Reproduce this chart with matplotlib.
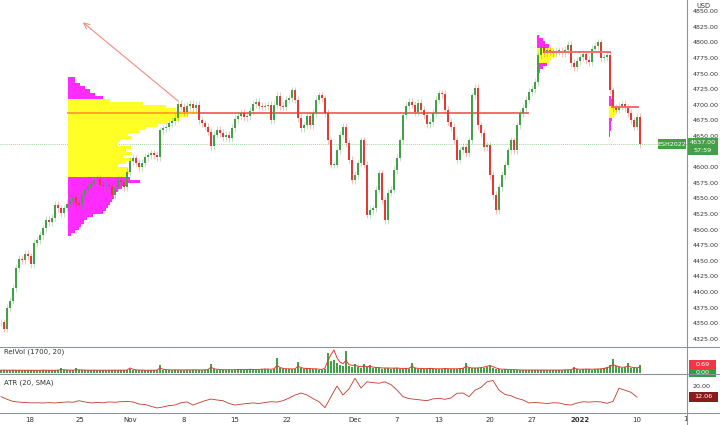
import matplotlib
matplotlib.use("Agg")
import matplotlib.pyplot as plt
import numpy as np
from matplotlib.lines import Line2D
from matplotlib.patches import Rectangle
from matplotlib.transforms import Bbox

GREEN = "#43a047"
RED = "#e53935"
POC_RED = "#f26d6d"
YELLOW = "#ffff26"
MAGENTA = "#ff2bff"
GRID = "#8f929a"
TXT = "#333333"

# ---------------------------------------------------------------------------
# data
# ---------------------------------------------------------------------------
# ES futures closes, one bar per ~4h, mid Oct 2021 -> 10 Jan 2022
close = [
    4351, 4341, 4374, 4386, 4406, 4438, 4453, 4451, 4461, 4457,
    4444, 4478, 4483, 4491, 4502, 4515, 4512, 4519, 4539, 4534,
    4526, 4534, 4541, 4546, 4552, 4542, 4539, 4555, 4564, 4568,
    4574, 4579, 4581, 4571, 4569, 4572, 4569, 4555, 4567, 4579,
    4576, 4568, 4592, 4610, 4614, 4607, 4600, 4607, 4616, 4619,
    4622, 4619, 4616, 4659, 4662, 4665, 4670, 4674, 4679, 4701,
    4697, 4688, 4698, 4701, 4695, 4700, 4675, 4670, 4665, 4657,
    4634, 4652, 4660, 4655, 4648, 4652, 4647, 4663, 4677, 4682,
    4687, 4680, 4682, 4690, 4701, 4705, 4698, 4697, 4698, 4700,
    4675, 4700, 4714, 4698, 4697, 4708, 4710, 4723, 4708, 4679,
    4663, 4667, 4682, 4667, 4687, 4708, 4715, 4710, 4687, 4643,
    4604, 4604, 4627, 4652, 4664, 4639, 4612, 4579, 4587, 4607,
    4643, 4604, 4524, 4531, 4534, 4564, 4590, 4547, 4515, 4559,
    4564, 4595, 4615, 4643, 4683, 4698, 4705, 4700, 4688, 4703,
    4692, 4683, 4669, 4672, 4687, 4708, 4718, 4717, 4692, 4672,
    4664, 4643, 4612, 4627, 4632, 4622, 4643, 4715, 4727, 4667,
    4655, 4632, 4635, 4587, 4555, 4531, 4568, 4587, 4604, 4627,
    4643, 4627, 4667, 4687, 4695, 4708, 4720, 4725, 4736, 4780,
    4793, 4783, 4788, 4785, 4783, 4786, 4786, 4783, 4788, 4796,
    4767, 4760, 4770, 4776, 4781, 4772, 4768, 4790, 4794, 4800,
    4775, 4776, 4780, 4723, 4695, 4692, 4698, 4701, 4695, 4687,
    4675, 4665, 4680, 4637,
]

# relative volume histogram and its signal line
relvol = [
    0.4, 0.3, 0.35, 0.3, 0.4, 0.3, 0.35, 0.3, 0.3, 0.35,
    0.3, 0.35, 0.3, 0.3, 0.4, 0.3, 0.35, 0.3, 0.3, 0.4,
    0.6, 0.35, 0.3, 0.35, 0.3, 0.6, 0.35, 0.3, 0.3, 0.35,
    0.3, 0.4, 0.3, 0.35, 0.3, 0.3, 0.35, 0.3, 0.3, 0.35,
    0.3, 0.35, 0.3, 0.5, 0.35, 0.3, 0.3, 0.35, 0.3, 0.3,
    0.35, 0.3, 0.4, 1.0, 0.4, 0.35, 0.3, 0.35, 0.4, 0.35,
    0.3, 0.35, 0.4, 0.35, 0.4, 0.35, 0.3, 0.35, 0.4, 0.45,
    1.1, 0.45, 0.4, 0.35, 0.4, 0.35, 0.4, 0.35, 0.4, 0.45,
    0.4, 0.35, 0.4, 0.45, 0.4, 0.35, 0.4, 0.45, 0.5, 0.45,
    0.4, 0.5, 1.8, 0.6, 0.5, 0.45, 0.5, 0.45, 0.5, 1.3,
    0.6, 0.5, 0.55, 0.5, 0.45, 0.5, 0.4, 0.35, 0.5, 2.4,
    1.4, 1.5, 1.2, 0.9, 0.8, 2.6, 0.8, 0.7, 1.1, 0.7,
    0.6, 1.1, 0.7, 1.0, 0.6, 0.55, 0.6, 0.5, 0.55, 0.6,
    0.5, 0.55, 0.6, 0.5, 0.5, 0.55, 0.5, 1.2, 0.55, 0.5,
    0.5, 0.45, 0.5, 0.55, 0.5, 0.45, 0.5, 0.5, 0.55, 0.5,
    0.5, 0.45, 0.5, 0.55, 0.6, 1.2, 0.6, 0.55, 0.6, 0.55,
    0.6, 0.65, 0.7, 0.8, 0.6, 0.5, 0.45, 0.4, 0.45, 0.4,
    0.35, 0.4, 0.35, 0.3, 0.35, 0.3, 0.3, 0.35, 0.3, 0.35,
    0.3, 0.35, 0.3, 0.35, 0.3, 0.35, 0.3, 0.35, 0.4, 0.35,
    0.4, 0.7, 0.45, 0.4, 0.45, 0.5, 0.45, 0.4, 0.45, 0.5,
    0.5, 0.6, 0.7, 0.9, 1.7, 0.8, 0.7, 0.6, 0.7, 1.2,
    0.6, 0.55, 0.6, 1.0,
]
relvol_line = [
    0.35, 0.35, 0.33, 0.33, 0.35, 0.33, 0.33, 0.32, 0.32, 0.33,
    0.33, 0.33, 0.32, 0.32, 0.35, 0.33, 0.33, 0.32, 0.32, 0.35,
    0.4, 0.38, 0.35, 0.34, 0.33, 0.4, 0.38, 0.35, 0.33, 0.33,
    0.33, 0.35, 0.33, 0.33, 0.32, 0.32, 0.33, 0.32, 0.32, 0.33,
    0.33, 0.34, 0.35, 0.6, 0.45, 0.38, 0.35, 0.35, 0.33, 0.33,
    0.33, 0.33, 0.35, 0.6, 0.45, 0.4, 0.38, 0.36, 0.38, 0.37,
    0.35, 0.36, 0.38, 0.37, 0.38, 0.37, 0.35, 0.36, 0.38, 0.4,
    0.7, 0.5, 0.45, 0.4, 0.4, 0.38, 0.4, 0.38, 0.4, 0.42,
    0.42, 0.4, 0.42, 0.44, 0.42, 0.4, 0.42, 0.45, 0.48, 0.46,
    0.45, 0.5, 0.9, 0.65, 0.55, 0.5, 0.5, 0.48, 0.5, 0.8,
    0.65, 0.55, 0.55, 0.52, 0.5, 0.5, 0.45, 0.42, 0.6, 1.5,
    2.2, 2.75, 1.8, 1.3, 1.1, 1.5, 1.0, 0.9, 0.95, 0.8,
    0.75, 0.85, 0.75, 0.8, 0.7, 0.65, 0.65, 0.6, 0.6, 0.6,
    0.58, 0.58, 0.6, 0.55, 0.55, 0.55, 0.55, 0.8, 0.6, 0.55,
    0.55, 0.52, 0.52, 0.55, 0.52, 0.5, 0.5, 0.5, 0.52, 0.52,
    0.5, 0.5, 0.5, 0.52, 0.55, 0.8, 0.65, 0.6, 0.6, 0.6,
    0.65, 0.7, 0.8, 0.9, 0.75, 0.6, 0.5, 0.45, 0.45, 0.42,
    0.4, 0.4, 0.38, 0.36, 0.36, 0.35, 0.35, 0.35, 0.35, 0.35,
    0.35, 0.35, 0.35, 0.35, 0.35, 0.35, 0.35, 0.35, 0.38, 0.38,
    0.4, 0.55, 0.48, 0.45, 0.45, 0.47, 0.47, 0.45, 0.46, 0.48,
    0.5, 0.55, 0.62, 0.75, 1.0, 0.85, 0.75, 0.68, 0.7, 0.85,
    0.7, 0.65, 0.62, 0.69,
]

# ATR(20, SMA), one reading every second bar
atr = [
    12.4, 10.5, 9.0, 8.5, 8.2, 7.9, 8.0, 7.9, 8.1, 7.9,
    8.3, 8.6, 8.4, 9.5, 8.6, 7.9, 8.2, 8.0, 8.6, 8.4,
    8.8, 8.9, 8.6, 7.1, 6.8, 5.5, 4.3, 5.0, 6.0, 6.4,
    8.0, 8.6, 6.4, 8.0, 9.5, 10.7, 10.0, 9.5, 7.5, 6.4,
    7.0, 7.5, 7.9, 7.5, 8.2, 8.8, 8.5, 9.5, 11.4, 13.5,
    15.0, 13.6, 11.0, 8.8, 4.5, 12.4, 20.0, 13.6, 18.0, 25.5,
    18.6, 23.0, 22.4, 22.0, 23.0, 21.0, 17.1, 12.4, 11.0, 10.5,
    10.0, 9.5, 10.8, 11.2, 10.5, 11.5, 14.8, 15.0, 12.4, 17.0,
    19.0, 23.0, 24.0, 17.0, 14.0, 13.0, 11.2, 10.0, 7.9, 8.2,
    7.9, 7.5, 8.0, 7.9, 6.8, 6.4, 7.8, 8.8, 8.5, 8.8,
    8.6, 7.6, 9.0, 18.4, 17.0, 15.5, 12.06,
]

# session volume profiles: row price, relative row volume, value area
vp1_levels = list(range(4742, 4491, -5))
vp1_vol = [
    7, 7, 12, 17, 22, 27, 35,
    42, 75, 98, 108, 125, 120, 112, 100, 90, 78, 72, 60, 64, 52, 50, 63,
    58, 64, 55, 65, 58, 50, 60, 62, 58,
    62, 72, 60, 54, 50, 47, 46, 44, 42, 40, 38, 35, 25, 19, 16, 13, 11, 7, 3,
]
vp1_va = (4587, 4707)
vp2_levels = [4809, 4804, 4799, 4794, 4789, 4784, 4779, 4774, 4769, 4764, 4759, 4754]
vp2_vol = [2, 6, 8, 12, 16, 20, 18, 14, 12, 10, 6, 3]
vp2_va = (4769, 4789)
vp3_levels = [4711, 4706, 4701, 4696, 4691, 4686, 4681, 4676, 4671, 4666, 4661, 4656, 4651]
vp3_vol = [2, 3, 4, 10, 8, 7, 5, 3, 2, 2, 2, 1, 1]
vp3_va = (4681, 4699)

date_ticks = [9.67, 26.33, 43, 60.8, 78, 95.3, 118, 132, 146, 163, 177, 193, 212]
date_labels = ["18", "25", "Nov", "8", "15", "22", "Dec", "7", "13", "20", "27", "2022", "10"]
price_ticks = list(range(4325, 4851, 25))

arrow_from = (59, 4706)
arrow_to = (27.3, 4832)

# ---------------------------------------------------------------------------
W, H = 720, 425
fig = plt.figure(figsize=(7.2, 4.25), dpi=100)


def frect(x0, y0, x1, y1):
    return [x0 / W, 1 - y1 / H, (x1 - x0) / W, (y1 - y0) / H]


ax = fig.add_axes(frect(0, 0, 687, 347))
ax_vol = fig.add_axes(frect(0, 347, 687, 374), sharex=ax)
ax_atr = fig.add_axes(frect(0, 374, 687, 413), sharex=ax)
for a in (ax, ax_vol, ax_atr):
    for s in a.spines.values():
        s.set_visible(False)
    a.set_facecolor("none")

# candles
c = np.array(close, float)
o = np.r_[c[0], c[:-1]]
idx = np.arange(len(c))
col = np.where(c >= o, GREEN, RED)
body_lo = np.minimum(o, c)
body_hi = np.maximum(o, c)
WICK = 6
ax.vlines(idx, body_lo - WICK, body_hi + WICK, colors=col, lw=0.45, alpha=0.5, zorder=3)
ax.bar(idx, np.maximum(body_hi - body_lo, 1.5), bottom=body_lo, width=0.45, color=col,
       lw=0, zorder=4)


def profile(levels, vols, va, left):
    lv = np.array(levels)
    vv = np.array(vols) / 3.0
    cols = [YELLOW if va[0] <= p <= va[1] else MAGENTA for p in lv]
    ax.barh(lv, vv, height=5, left=left, color=cols, lw=0, zorder=1)
    return lv[np.argmax(vv)]


poc1 = profile(vp1_levels, vp1_vol, vp1_va, 22.33)
ax.plot([22.33, 66.33], [poc1, poc1], color="#ffa726", lw=1.4, zorder=2)
ax.plot([66.33, 175.67], [poc1, poc1], color=POC_RED, lw=1.4, zorder=2)
poc2 = profile(vp2_levels, vp2_vol, vp2_va, 178.67)
ax.plot([181.3, 203], [poc2, poc2], color=POC_RED, lw=1.4, zorder=5)
poc3 = profile(vp3_levels, vp3_vol, vp3_va, 202.67)
ax.plot([203.7, 212.3], [poc3, poc3], color=POC_RED, lw=1.4, zorder=5)

ax.annotate("", xy=arrow_to, xytext=arrow_from,
            arrowprops=dict(arrowstyle="->", color="#f28b82", lw=0.8, shrinkA=0, shrinkB=0))

last = close[-1]
ax.axhline(last, color="#7cc47f", lw=0.6, ls=(0, (1, 1.5)), zorder=0)

ax.set_xlim(-0.33, 228.67)
ax.set_ylim(4311.7, 4867.8)
ax.yaxis.tick_right()
ax.set_yticks(price_ticks)
# 4625 sits under the last-price tag, as in the reference
ax.set_yticklabels(["" if v == 4625 else f"{v:.2f}" for v in price_ticks])
ax.tick_params(axis="y", length=0, labelsize=4.6, pad=4, labelcolor=TXT)
ax.tick_params(axis="x", length=0, labelbottom=False)

# relvol pane
ax_vol.bar(idx, relvol, width=0.9, color=GREEN, lw=0)
ax_vol.plot(idx, relvol_line, color=RED, lw=0.7)
ax_vol.set_ylim(-0.12, 3.1)
ax_vol.set_yticks([])
ax_vol.tick_params(axis="x", length=0, labelbottom=False)
ax_vol.text(0.006, 0.82, "RelVol (1700, 20)", transform=ax_vol.transAxes, fontsize=5,
            color=TXT, va="center")

# ATR pane
ax_atr.plot(np.arange(len(atr)) * 2, atr, color="#c0392b", lw=0.6)
ax_atr.set_ylim(0.7, 28.6)
ax_atr.yaxis.tick_right()
ax_atr.set_yticks([20])
ax_atr.set_yticklabels(["20.00"])
ax_atr.tick_params(axis="y", length=0, labelsize=4.6, pad=4, labelcolor=TXT)
ax_atr.set_xticks(date_ticks)
ax_atr.set_xticklabels(date_labels)
ax_atr.tick_params(axis="x", length=0, labelsize=5, pad=3, labelcolor=TXT)
for lab in ax_atr.get_xticklabels():
    if lab.get_text() == "2022":
        lab.set_fontweight("bold")
ax_atr.text(0.006, 0.78, "ATR (20, SMA)", transform=ax_atr.transAxes, fontsize=5,
            color=TXT, va="center")

# clipped tick label at the right edge
t17 = fig.text(688 / W, 1 - 419 / H, "17", fontsize=5, color=TXT, ha="center", va="center",
               clip_on=True)
t17.set_clip_box(Bbox.from_extents(0, 0, 687, H))

# pane separators
for yy in (347, 374, 413):
    fig.add_artist(Line2D([0, 1], [1 - yy / H] * 2, color=GRID, lw=0.8,
                          transform=fig.transFigure))
fig.add_artist(Line2D([687 / W] * 2, [0, 1], color=GRID, lw=0.8, transform=fig.transFigure))

fig.text(703 / W, 1 - 6 / H, "USD", fontsize=4.8, color=TXT, ha="center", va="center")


def tag(x0, y0, x1, y1, color, lines, fs=4.6):
    fig.add_artist(Rectangle((x0 / W, 1 - y1 / H), (x1 - x0) / W, (y1 - y0) / H,
                             transform=fig.transFigure, color=color, lw=0))
    n = len(lines)
    for k, s in enumerate(lines):
        yc = y0 + (y1 - y0) * (k + 0.5) / n
        fig.text((x0 + x1) / 2 / W, 1 - yc / H, s, fontsize=fs, color="white",
                 ha="center", va="center")


tag(658, 139, 686, 149, GREEN, ["ESH2022"])
tag(688, 138, 718, 155, GREEN, [f"{last:.2f}", "57:59"])
tag(689, 360, 716, 369, "#f23645", [f"{relvol_line[-1]:.2f}"])
tag(689, 369, 716, 377, "#2e9e3e", ["0.00"])
tag(689, 392, 718, 402, "#8b1a1a", [f"{atr[-1]:.2f}"])

fig.savefig("out.png", dpi=100, facecolor="white")
